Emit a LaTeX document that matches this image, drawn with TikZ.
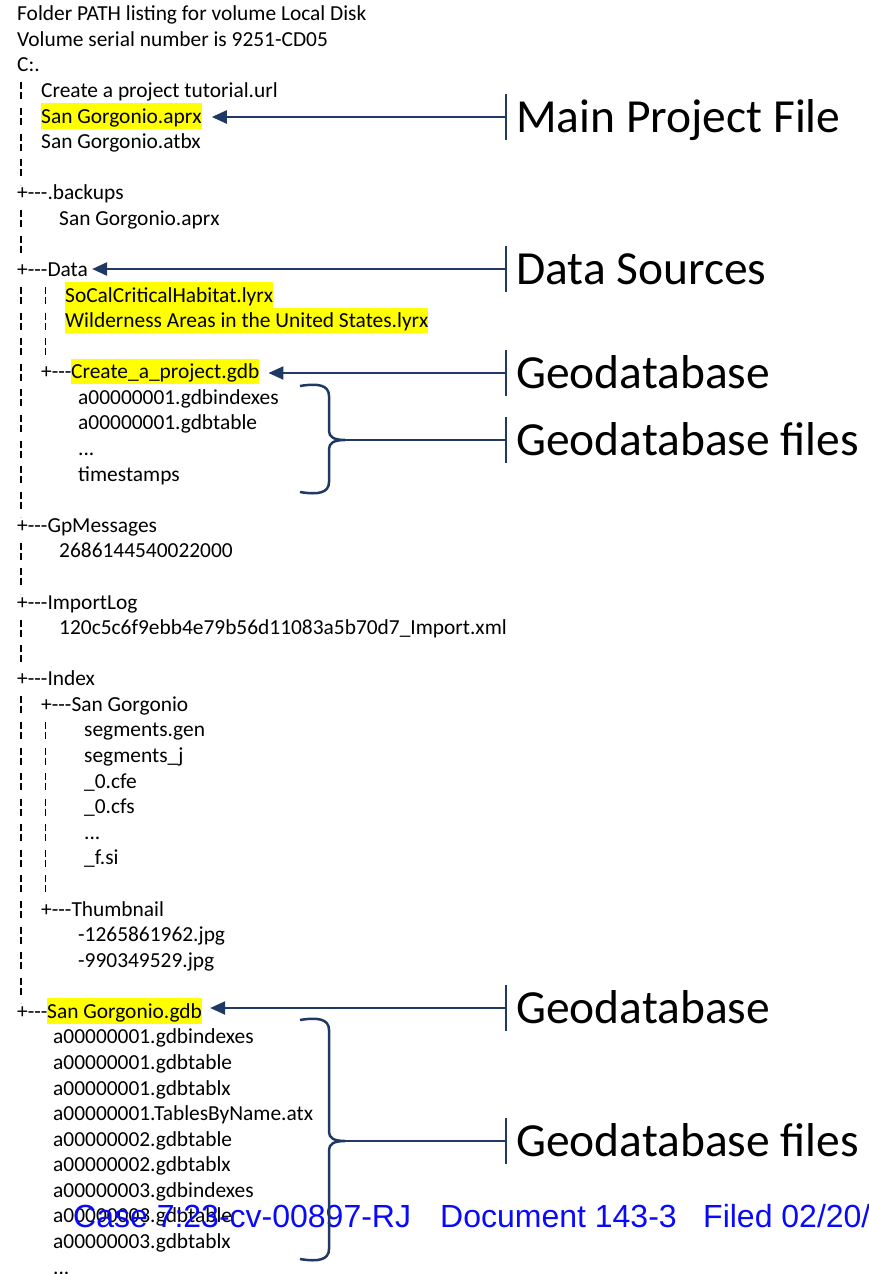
\documentclass[tikz,border=0pt]{standalone}
\usepackage{fontspec}
\setmainfont{Carlito}
\newfontfamily\stampfont{Liberation Sans}
\usetikzlibrary{arrows.meta}
\definecolor{navy}{HTML}{203864}
\definecolor{hl}{HTML}{FFFF00}
\definecolor{stampblue}{HTML}{0A0AFA}
% tree branch marker, kept apart so the hyphens are not joined into a dash
\newcommand\branch{+\mbox{-}\mbox{-}\mbox{-}}
\def\bz{20.7}  % baseline of the first line
\def\ls{25.58} % line pitch
\begin{document}
\begin{tikzpicture}[x=1pt,y=-1pt,
  entry/.style={anchor=base west, inner sep=0pt, font=\fontsize{21.4}{25}\selectfont},
  marked/.style={entry, fill=hl, text height=20pt, text depth=5.5pt},
  vbar/.style={draw=black, line width=1.1pt, dash pattern=on 7pt off 3pt on 7pt off 8.58pt},
  caption/.style={anchor=west, inner xsep=10pt, inner ysep=0pt, text height=30pt, text depth=0pt,
    font=\fontsize{47.5}{52}\selectfont},
  tick/.style={draw=navy, line width=2.3pt},
  link/.style={tick, -{Triangle[length=15pt,width=13pt]}},
  brace/.style={draw=navy, line width=2.5pt, line join=round},
  stamp/.style={anchor=base west, inner sep=0pt, text=stampblue, font=\stampfont\fontsize{32}{36}\selectfont}]
\useasboundingbox (0,0) rectangle (868,1274);
\clip (0,0) rectangle (868,1274);

% header
\node[entry] (h0) at (17,{\bz+0*\ls}) {Folder PATH listing for volume Local Disk};
\node[entry] (h1) at (17,{\bz+1*\ls}) {Volume serial number is 9251-CD05};
\node[entry] (root) at (17,{\bz+2*\ls}) {C:.};

% vertical guide bars of the tree
\foreach \a/\b/\x in {3/6/21, 8/9/21, 11/19/21, 21/22/21, 24/25/21, 27/38/21, 11/13/45.7, 28/34/45.7}
  \draw[vbar] (\x,{\bz+\a*\ls-15}) -- (\x,{\bz+\b*\ls+10.58});

% project root
\node[entry] (url) at (41,{\bz+3*\ls}) {Create a project tutorial.url};
\node[marked] (aprx) at (41,{\bz+4*\ls}) {San Gorgonio.aprx};
\node[entry] (atbx) at (41,{\bz+5*\ls}) {San Gorgonio.atbx};

% .backups
\node[entry] (backups) at (17,{\bz+7*\ls}) {\branch.backups};
\node[entry] (bkaprx) at (59,{\bz+8*\ls}) {San Gorgonio.aprx};

% Data
\node[entry] (data) at (17,{\bz+10*\ls}) {\branch Data};
\node[marked] (lyr1) at (65,{\bz+11*\ls}) {SoCalCriticalHabitat.lyrx};
\node[marked] (lyr2) at (65,{\bz+12*\ls}) {Wilderness Areas in the United States.lyrx};
\node[entry] (brA) at (41,{\bz+14*\ls}) {\branch};
\node[marked] (gdbA) at (71,{\bz+14*\ls}) {Create\_a\_project.gdb};
\node[entry] (a1) at (78,{\bz+15*\ls}) {a00000001.gdbindexes};
\node[entry] (a2) at (78,{\bz+16*\ls}) {a00000001.gdbtable};
\node[entry] (a3) at (78,{\bz+17*\ls}) {...};
\node[entry] (a4) at (78,{\bz+18*\ls}) {timestamps};

% GpMessages and ImportLog
\node[entry] (gp) at (17,{\bz+20*\ls}) {\branch GpMessages};
\node[entry] (gp1) at (59,{\bz+21*\ls}) {2686144540022000};
\node[entry] (imp) at (17,{\bz+23*\ls}) {\branch ImportLog};
\node[entry] (imp1) at (59,{\bz+24*\ls}) {120c5c6f9ebb4e79b56d11083a5b70d7\_Import.xml};

% Index
\node[entry] (idx) at (17,{\bz+26*\ls}) {\branch Index};
\node[entry] (idxsg) at (41,{\bz+27*\ls}) {\branch San Gorgonio};
\node[entry] (s1) at (84,{\bz+28*\ls}) {segments.gen};
\node[entry] (s2) at (84,{\bz+29*\ls}) {segments\_j};
\node[entry] (s3) at (84,{\bz+30*\ls}) {\_0.cfe};
\node[entry] (s4) at (84,{\bz+31*\ls}) {\_0.cfs};
\node[entry] (s5) at (84,{\bz+32*\ls}) {...};
\node[entry] (s6) at (84,{\bz+33*\ls}) {\_f.si};
\node[entry] (thumb) at (41,{\bz+35*\ls}) {\branch Thumbnail};
\node[entry] (t1) at (78,{\bz+36*\ls}) {-1265861962.jpg};
\node[entry] (t2) at (78,{\bz+37*\ls}) {-990349529.jpg};

% San Gorgonio.gdb
\node[entry] (brB) at (17,{\bz+39*\ls}) {\branch};
\node[marked] (gdbB) at (47,{\bz+39*\ls}) {San Gorgonio.gdb};
\foreach \n/\f in {40/a00000001.gdbindexes, 41/a00000001.gdbtable, 42/a00000001.gdbtablx,
  43/a00000001.TablesByName.atx, 44/a00000002.gdbtable, 45/a00000002.gdbtablx,
  46/a00000003.gdbindexes, 47/a00000003.gdbtable, 48/a00000003.gdbtablx}
  \node[entry] (b\n) at (53,{\bz+\n*\ls}) {\f};
\node[entry] (b49) at (53,{\bz+49*\ls}) {...};

% filing stamp across the lower part
\node[stamp] (st1) at (73,1227.5) {Case 7:23-cv-00897-RJ};
\node[stamp] (st2) at (440,1227.5) {Document 143-3};
\node[stamp] (st3) at (703,1227.5) {Filed 02/20/};

% captions with their ticks
\node[caption] (cmain) at (506,117) {Main Project File};
\node[caption] (cdata) at (506,269) {Data Sources};
\node[caption] (cgdbA) at (506,373) {Geodatabase};
\node[caption] (cfilesA) at (506,440) {Geodatabase files};
\node[caption] (cgdbB) at (506,1008) {Geodatabase};
\node[caption] (cfilesB) at (506,1141) {Geodatabase files};
\foreach \c in {cmain,cdata,cgdbA,cfilesA,cgdbB,cfilesB}
  \draw[tick] ([yshift=23pt]\c.west) -- ([yshift=-23pt]\c.west);

% arrows to the marked entries
\draw[link, shorten >=10pt] (cmain.west) -- (aprx.east |- cmain.west);
\draw[link, shorten >=4pt] (cdata.west) -- (data.east |- cdata.west);
\draw[link, shorten >=9pt] (cgdbA.west) -- (gdbA.east |- cgdbA.west);
\draw[link, shorten >=8pt] (cgdbB.west) -- (gdbB.east |- cgdbB.west);

% braces round the geodatabase contents
\coordinate (tipA) at (345,440);
\draw[brace] (300,386) .. controls (318,383) and (329,385) .. (329,396) -- (329,431)
  .. controls (329,437) and (334,440) .. (tipA)
  .. controls (334,440) and (329,443) .. (329,449) -- (329,482)
  .. controls (329,493) and (318,495) .. (300,492);
\draw[tick] (tipA) -- (cfilesA.west);
\coordinate (tipB) at (345,1141);
\draw[brace] (300,1020) .. controls (318,1017) and (329,1019) .. (329,1030) -- (329,1132)
  .. controls (329,1138) and (334,1141) .. (tipB)
  .. controls (334,1141) and (329,1144) .. (329,1150) -- (329,1249)
  .. controls (329,1260) and (318,1262) .. (300,1259);
\draw[tick] (tipB) -- (cfilesB.west);
\end{tikzpicture}
\end{document}
